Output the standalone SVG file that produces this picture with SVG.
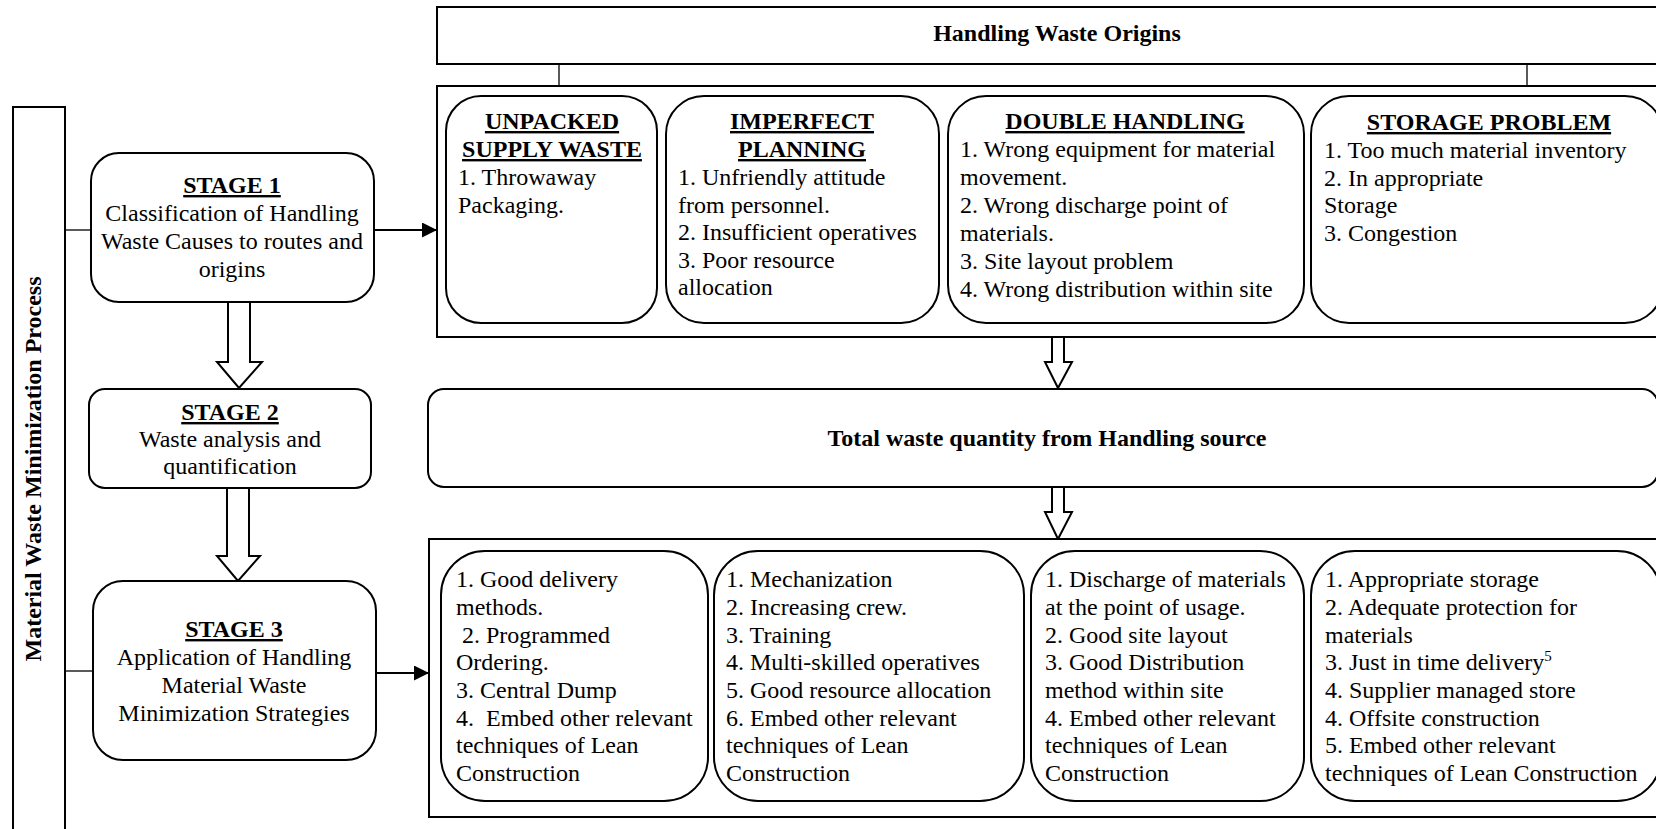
<svg xmlns="http://www.w3.org/2000/svg" width="1656" height="829" viewBox="0 0 1656 829">
<style>
  text { font-family: "Liberation Serif", "Times New Roman", serif; font-size: 24px; fill: #000; }
  .b { font-weight: bold; }
  .u { font-weight: bold; text-decoration: underline; }
  .c { text-anchor: middle; }
  .pre { white-space: pre; }
  .box { fill: #fff; stroke: #000; stroke-width: 2; }
  .thin { stroke: #000; stroke-width: 1.3; fill: none; }
  .line { stroke: #000; stroke-width: 2; fill: none; }
  .blk { fill: #fff; stroke: #000; stroke-width: 2; stroke-linejoin: miter; }
</style>
<defs>
  <marker id="ah" markerWidth="15" markerHeight="15" refX="15" refY="7.5" orient="auto" markerUnits="userSpaceOnUse">
    <path d="M0,0 L15,7.5 L0,15 Z" fill="#000"/>
  </marker>
</defs>
<rect width="1656" height="829" fill="#fff"/>

<g id="process-bar">
  <rect class="box" x="13" y="107" width="52" height="740"/>
  <text class="b c" transform="translate(41,469) rotate(-90)">Material Waste Minimization Process</text>
</g>

<g id="connectors">
  <line class="thin" x1="65" y1="230" x2="91" y2="230"/>
  <line class="thin" x1="65" y1="671" x2="93" y2="671"/>
  <line class="line" x1="374" y1="230" x2="437" y2="230" marker-end="url(#ah)"/>
  <line class="line" x1="376" y1="673" x2="429" y2="673" marker-end="url(#ah)"/>
  <line class="thin" x1="559" y1="64" x2="559" y2="86"/>
  <line class="thin" x1="1527" y1="64" x2="1527" y2="86"/>
  <polygon class="blk" points="228,302 250,302 250,362 262,362 239,388 217,362 228,362"/>
  <polygon class="blk" points="227,488 249,488 249,556 260,556 238,581 217,556 227,556"/>
  <polygon class="blk" points="1052,337 1064,337 1064,362 1072,362 1058,388 1045,362 1052,362"/>
  <polygon class="blk" points="1052,487 1064,487 1064,512 1072,512 1058,539 1045,512 1052,512"/>
</g>

<g id="stage1">
  <rect class="box" x="91" y="153" width="283" height="149" rx="28" ry="28"/>
  <text class="u c" x="232" y="193">STAGE 1</text>
  <text class="c" x="232" y="221">Classification of Handling</text>
  <text class="c" x="232" y="249">Waste Causes to routes and</text>
  <text class="c" x="232" y="277">origins</text>
</g>

<g id="stage2">
  <rect class="box" x="89" y="389" width="282" height="99" rx="16" ry="16"/>
  <text class="u c" x="230" y="420">STAGE 2</text>
  <text class="c" x="230" y="447">Waste analysis and</text>
  <text class="c" x="230" y="474">quantification</text>
</g>

<g id="stage3">
  <rect class="box" x="93" y="581" width="283" height="179" rx="30" ry="30"/>
  <text class="u c" x="234" y="637">STAGE 3</text>
  <text class="c" x="234" y="665">Application of Handling</text>
  <text class="c" x="234" y="693">Material Waste</text>
  <text class="c" x="234" y="721">Minimization Strategies</text>
</g>

<g id="origins-header">
  <rect class="box" x="437" y="7" width="1250" height="57"/>
  <text class="b c" x="1057" y="41">Handling Waste Origins</text>
</g>

<g id="origins">
  <rect class="box" x="437" y="86" width="1250" height="251"/>
</g>

<g id="unpacked">
  <rect class="box" x="446" y="96" width="211" height="227" rx="35" ry="35"/>
  <text class="u c" x="552" y="129">UNPACKED</text>
  <text class="u c" x="552" y="157">SUPPLY WASTE</text>
  <text x="458" y="185">1. Throwaway</text>
  <text x="458" y="213">Packaging.</text>
</g>

<g id="imperfect">
  <rect class="box" x="666" y="96" width="273" height="227" rx="38" ry="38"/>
  <text class="u c" x="802" y="129">IMPERFECT</text>
  <text class="u c" x="802" y="157">PLANNING</text>
  <text x="678" y="185">1. Unfriendly attitude</text>
  <text x="678" y="213">from personnel.</text>
  <text x="678" y="240">2. Insufficient operatives</text>
  <text x="678" y="268">3. Poor resource</text>
  <text x="678" y="295">allocation</text>
</g>

<g id="double">
  <rect class="box" x="948" y="96" width="356" height="227" rx="38" ry="38"/>
  <text class="u c" x="1125" y="129">DOUBLE HANDLING</text>
  <text x="960" y="157">1. Wrong equipment for material</text>
  <text x="960" y="185">movement.</text>
  <text x="960" y="213">2. Wrong discharge point of</text>
  <text x="960" y="241">materials.</text>
  <text x="960" y="269">3. Site layout problem</text>
  <text x="960" y="297">4. Wrong distribution within site</text>
</g>

<g id="storage">
  <rect class="box" x="1311" y="96" width="352" height="227" rx="38" ry="38"/>
  <text class="u c" x="1489" y="130">STORAGE PROBLEM</text>
  <text x="1324" y="158">1. Too much material inventory</text>
  <text x="1324" y="186">2. In appropriate</text>
  <text x="1324" y="213">Storage</text>
  <text x="1324" y="241">3. Congestion</text>
</g>

<g id="total">
  <rect class="box" x="428" y="389" width="1230" height="98" rx="16" ry="16"/>
  <text class="b c" x="1047" y="446">Total waste quantity from Handling source</text>
</g>

<g id="strategies">
  <rect class="box" x="429" y="539" width="1260" height="278"/>
</g>

<g id="strategy-a">
  <rect class="box" x="441" y="551" width="267" height="250" rx="44" ry="44"/>
  <text x="456" y="587">1. Good delivery</text>
  <text x="456" y="615">methods.</text>
  <text class="pre" x="456" y="643"> 2. Programmed</text>
  <text x="456" y="670">Ordering.</text>
  <text x="456" y="698">3. Central Dump</text>
  <text class="pre" x="456" y="726">4.  Embed other relevant</text>
  <text x="456" y="753">techniques of Lean</text>
  <text x="456" y="781">Construction</text>
</g>

<g id="strategy-b">
  <rect class="box" x="714" y="551" width="310" height="250" rx="44" ry="44"/>
  <text x="726" y="587">1. Mechanization</text>
  <text x="726" y="615">2. Increasing crew.</text>
  <text x="726" y="643">3. Training</text>
  <text x="726" y="670">4. Multi-skilled operatives</text>
  <text x="726" y="698">5. Good resource allocation</text>
  <text x="726" y="726">6. Embed other relevant</text>
  <text x="726" y="753">techniques of Lean</text>
  <text x="726" y="781">Construction</text>
</g>

<g id="strategy-c">
  <rect class="box" x="1031" y="551" width="273" height="250" rx="44" ry="44"/>
  <text x="1045" y="587">1. Discharge of materials</text>
  <text x="1045" y="615">at the point of usage.</text>
  <text x="1045" y="643">2. Good site layout</text>
  <text x="1045" y="670">3. Good Distribution</text>
  <text x="1045" y="698">method within site</text>
  <text x="1045" y="726">4. Embed other relevant</text>
  <text x="1045" y="753">techniques of Lean</text>
  <text x="1045" y="781">Construction</text>
</g>

<g id="strategy-d">
  <rect class="box" x="1311" y="551" width="350" height="250" rx="44" ry="44"/>
  <text x="1325" y="587">1. Appropriate storage</text>
  <text x="1325" y="615">2. Adequate protection for</text>
  <text x="1325" y="643">materials</text>
  <text x="1325" y="670">3. Just in time delivery<tspan font-size="15" dy="-9">5</tspan></text>
  <text x="1325" y="698">4. Supplier managed store</text>
  <text x="1325" y="726">4. Offsite construction</text>
  <text x="1325" y="753">5. Embed other relevant</text>
  <text x="1325" y="781">techniques of Lean Construction</text>
</g>
</svg>
